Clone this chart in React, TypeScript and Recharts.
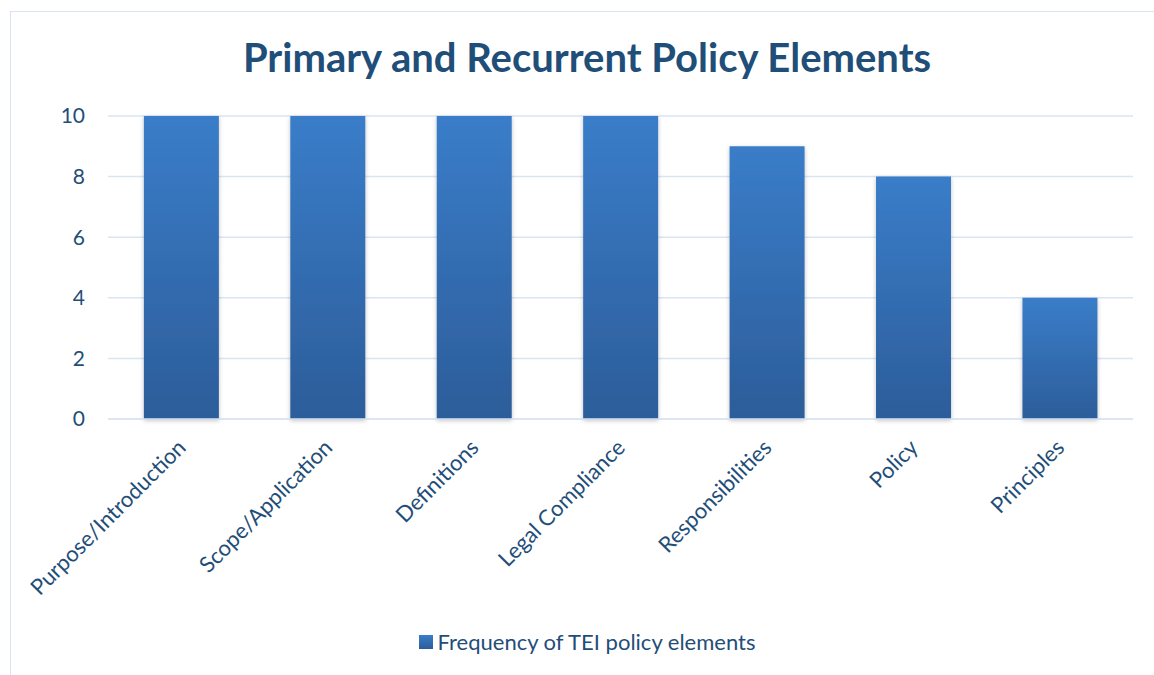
import React from 'react'
import { BarChart, Bar, XAxis, YAxis, CartesianGrid, Legend } from 'recharts'

const categories = [
  'Purpose/Introduction',
  'Scope/Application',
  'Definitions',
  'Legal Compliance',
  'Responsibilities',
  'Policy',
  'Principles',
]
const frequency = [10, 10, 10, 10, 9, 8, 4]
const yTicks = [0, 2, 4, 6, 8, 10]

const SERIES_NAME = 'Frequency of TEI policy elements'
const TEXT = '#1f4e79'
const GRID = '#d9e5f4'
const FONT = 'Lato, "Open Sans", sans-serif'

const data = categories.map((name, i) => ({ name, value: frequency[i] }))

function AngledTick({ x, y, payload }: any) {
  const tx = x + 6
  const ty = y + 22
  return (
    <text
      x={tx}
      y={ty}
      transform={`rotate(-45, ${tx}, ${ty})`}
      textAnchor="end"
      fill={TEXT}
      fontSize={22}
      fontFamily={FONT}
    >
      {payload.value}
    </text>
  )
}

function LegendContent() {
  return (
    <div style={{ display: 'flex', justifyContent: 'center', alignItems: 'center', fontFamily: FONT, fontSize: 22, color: TEXT }}>
      <span
        style={{
          display: 'inline-block',
          width: 14,
          height: 14,
          marginRight: 5,
          background: 'linear-gradient(#3a7dc9, #2c5d9a)',
        }}
      />
      {SERIES_NAME}
    </div>
  )
}

export default function App() {
  return (
    <div style={{ position: 'absolute', left: 0, top: 0, width: 1154, height: 675, background: '#fff' }}>
      <div
        style={{
          position: 'absolute',
          left: 10,
          top: 11,
          width: 1150,
          height: 670,
          border: `1.5px solid ${GRID}`,
        }}
      />
      <div
        style={{
          position: 'absolute',
          left: 0,
          top: 33,
          width: 1174,
          textAlign: 'center',
          fontFamily: FONT,
          fontWeight: 700,
          fontSize: 40,
          color: TEXT,
        }}
      >
        Primary and Recurrent Policy Elements
      </div>
      <BarChart
        width={1154}
        height={675}
        data={data}
        margin={{ top: 116, right: 21, left: 20, bottom: 0 }}
        barCategoryGap="24.5%"
      >
        <defs>
          <linearGradient id="barFill" x1="0" y1="0" x2="0" y2="1">
            <stop offset="0%" stopColor="#3a7dc9" />
            <stop offset="100%" stopColor="#2c5d9a" />
          </linearGradient>
          <filter id="barShadow" x="-10%" y="-5%" width="120%" height="115%">
            <feDropShadow dx="0" dy="1.5" stdDeviation="2" floodColor="#000" floodOpacity="0.25" />
          </filter>
        </defs>
        <CartesianGrid vertical={false} stroke={GRID} strokeWidth={1.5} />
        <XAxis
          dataKey="name"
          interval={0}
          tickLine={false}
          axisLine={{ stroke: GRID, strokeWidth: 1.5 }}
          tick={<AngledTick />}
          height={256}
        />
        <YAxis
          domain={[0, 10]}
          ticks={yTicks}
          width={88}
          tickSize={0}
          tickMargin={23}
          axisLine={false}
          tickLine={false}
          tick={{ fill: TEXT, fontSize: 21, fontFamily: FONT }}
        />
        <Legend
          verticalAlign="middle"
          align="center"
          content={<LegendContent />}
          wrapperStyle={{ position: 'absolute', top: 628, left: 0, width: 1174 }}
        />
        <Bar
          dataKey="value"
          name={SERIES_NAME}
          fill="url(#barFill)"
          filter="url(#barShadow)"
          isAnimationActive={false}
        />
      </BarChart>
    </div>
  )
}
